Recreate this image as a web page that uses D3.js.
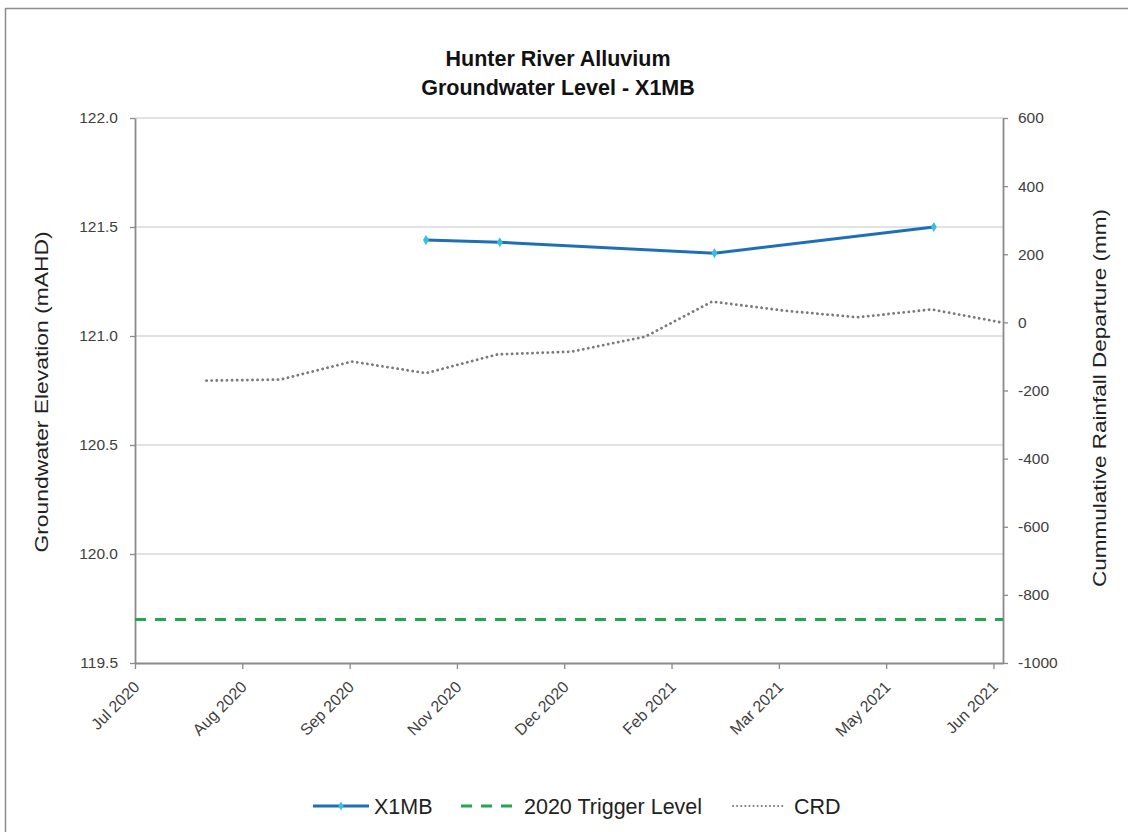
<!DOCTYPE html>
<html>
<head>
<meta charset="utf-8">
<script src="https://cdn.jsdelivr.net/npm/d3@7"></script>
<style>
  html, body { margin: 0; padding: 0; background: #fff; }
  svg text { font-family: "Liberation Sans", Arial, sans-serif; }
</style>
</head>
<body>
<svg id="chart" width="1128" height="832"></svg>
<script>
// ---- data ----
const titleLines = ["Hunter River Alluvium", "Groundwater Level - X1MB"];
const x1mbDates = ["2020-10-31", "2020-12-01", "2021-03-01", "2021-06-01"];
const x1mbValues = [121.44, 121.43, 121.38, 121.50];
const triggerLevel = 119.70;
const crdDates = ["2020-07-31", "2020-08-31", "2020-09-30", "2020-10-31", "2020-11-30", "2020-12-31",
                  "2021-01-31", "2021-02-28", "2021-03-31", "2021-04-30", "2021-05-31", "2021-06-30"];
const crdValues = [-171, -168, -115, -149, -94, -86, -42, 61, 34, 15, 38, -1];
const xDomain = ["2020-07-01", "2021-06-30"];
const xTickDates = ["2020-07-01", "2020-08-15", "2020-09-29", "2020-11-13", "2020-12-28",
                    "2021-02-11", "2021-03-28", "2021-05-12", "2021-06-26"];
const leftTicks = [119.5, 120.0, 120.5, 121.0, 121.5, 122.0];
const rightTicks = [-1000, -800, -600, -400, -200, 0, 200, 400, 600];
const legendLabels = ["X1MB", "2020 Trigger Level", "CRD"];

// ---- setup ----
const parse = d3.timeParse("%Y-%m-%d");
const svg = d3.select("#chart");
const L = 135, R = 1003, T = 118, B = 663;

const x = d3.scaleTime().domain(xDomain.map(parse)).range([L, R]);
const yL = d3.scaleLinear().domain([119.5, 122.0]).range([B, T]);
const yR = d3.scaleLinear().domain([-1000, 600]).range([B, T]);

const blue = "#1f6fb8", cyan = "#35c0e0", green = "#22a650", gray = "#7a7a7a", axisCol = "#8a8a8a", txt = "#404040";

// outer frame
svg.append("rect").attr("x", 5.5).attr("y", 8.5).attr("width", 1140).attr("height", 840)
  .attr("fill", "none").attr("stroke", "#8c8c8c").attr("stroke-width", 1.5);

// title
svg.append("g").selectAll("text").data(titleLines).join("text")
  .attr("x", 558).attr("y", (d, i) => 66 + i * 29)
  .attr("text-anchor", "middle").attr("font-size", 21.5).attr("font-weight", "bold").attr("fill", "#111")
  .text(d => d);

// gridlines
svg.append("g").selectAll("line").data(leftTicks.filter(v => v > 119.5)).join("line")
  .attr("x1", L).attr("x2", R).attr("y1", d => yL(d)).attr("y2", d => yL(d))
  .attr("stroke", "#d9d9d9").attr("stroke-width", 1.3);

// axes
function styleAxis(g) {
  g.select(".domain").attr("stroke", axisCol).attr("stroke-width", 1.8);
  g.selectAll(".tick line").attr("stroke", axisCol).attr("stroke-width", 1.3);
  g.selectAll(".tick text").attr("fill", txt).attr("font-size", 15.5)
    .attr("font-family", "'Liberation Sans', Arial, sans-serif");
}
const gL = svg.append("g").attr("transform", `translate(${L},0)`)
  .call(d3.axisLeft(yL).tickValues(leftTicks).tickFormat(d3.format(".1f")).tickSize(5).tickSizeOuter(0).tickPadding(12));
styleAxis(gL);
const gR = svg.append("g").attr("transform", `translate(${R},0)`)
  .call(d3.axisRight(yR).tickValues(rightTicks).tickFormat(d3.format("d")).tickSize(5).tickSizeOuter(0).tickPadding(10));
styleAxis(gR);
gR.selectAll(".tick text").text(d => d < 0 ? "-" + Math.abs(d) : d);
const gX = svg.append("g").attr("transform", `translate(0,${B})`)
  .call(d3.axisBottom(x).tickValues(xTickDates.map(parse)).tickFormat(d3.timeFormat("%b %Y")).tickSize(6).tickSizeOuter(0));
styleAxis(gX);
gX.selectAll(".tick text")
  .attr("font-size", 16)
  .attr("text-anchor", "end").attr("dy", "0").attr("y", 0)
  .attr("transform", "translate(5,25) rotate(-45)");

// axis titles
svg.append("text").attr("transform", `translate(48,392) rotate(-90)`)
  .attr("text-anchor", "middle").attr("font-size", 19).attr("fill", "#222")
  .attr("textLength", 321).attr("lengthAdjust", "spacingAndGlyphs")
  .text("Groundwater Elevation (mAHD)");
svg.append("text").attr("transform", `translate(1106,398) rotate(-90)`)
  .attr("text-anchor", "middle").attr("font-size", 19).attr("fill", "#222")
  .attr("textLength", 378).attr("lengthAdjust", "spacingAndGlyphs")
  .text("Cummulative Rainfall Departure (mm)");

// trigger level
svg.append("line").attr("x1", L).attr("x2", R).attr("y1", yL(triggerLevel)).attr("y2", yL(triggerLevel))
  .attr("stroke", green).attr("stroke-width", 3).attr("stroke-dasharray", "11,9");

// CRD
const crd = crdDates.map((d, i) => ({ d: parse(d), v: crdValues[i] }));
svg.append("path").datum(crd)
  .attr("d", d3.line().x(p => x(p.d)).y(p => yR(p.v)))
  .attr("fill", "none").attr("stroke", gray).attr("stroke-width", 2.8)
  .attr("stroke-dasharray", "0.1,5").attr("stroke-linecap", "round");

// X1MB
const wl = x1mbDates.map((d, i) => ({ d: parse(d), v: x1mbValues[i] }));
svg.append("path").datum(wl)
  .attr("d", d3.line().x(p => x(p.d)).y(p => yL(p.v)))
  .attr("fill", "none").attr("stroke", blue).attr("stroke-width", 3);
svg.append("g").selectAll("path").data(wl).join("path")
  .attr("transform", p => `translate(${x(p.d)},${yL(p.v)})`)
  .attr("d", d3.symbol(d3.symbolDiamond, 30)())
  .attr("fill", cyan);

// legend
const ly = 806;
const lg = svg.append("g");
lg.append("line").attr("x1", 313).attr("x2", 369).attr("y1", ly).attr("y2", ly).attr("stroke", blue).attr("stroke-width", 3);
lg.append("path").attr("transform", `translate(341,${ly})`).attr("d", d3.symbol(d3.symbolDiamond, 24)()).attr("fill", cyan);
lg.append("line").attr("x1", 461).attr("x2", 519).attr("y1", ly).attr("y2", ly).attr("stroke", green).attr("stroke-width", 3).attr("stroke-dasharray", "11,9");
lg.append("line").attr("x1", 733).attr("x2", 786).attr("y1", ly).attr("y2", ly).attr("stroke", gray).attr("stroke-width", 2).attr("stroke-dasharray", "0.1,4").attr("stroke-linecap", "round");
const lx = [374, 524, 794];
lg.selectAll("text").data(legendLabels).join("text")
  .attr("x", (d, i) => lx[i]).attr("y", ly + 7.5)
  .attr("font-size", 21.5).attr("fill", "#222").text(d => d);
</script>
</body>
</html>
